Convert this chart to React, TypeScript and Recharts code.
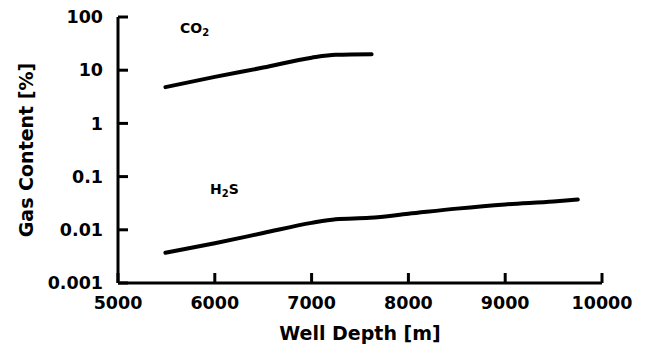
import React from "react";
import { LineChart, Line, XAxis, YAxis, Label, ReferenceDot } from "recharts";

// well depth [m] vs gas content [%]
const co2Depth = [5490, 6000, 6500, 7000, 7250, 7620];
const co2Content = [4.8, 7.5, 11.2, 17.2, 19.5, 20];

const h2sDepth = [5490, 6000, 6500, 7000, 7250, 7600, 8000, 8500, 9000, 9500, 9750];
const h2sContent = [0.0037, 0.0056, 0.0087, 0.0135, 0.0158, 0.0168, 0.02, 0.025, 0.03, 0.034, 0.037];

const xTicks = [5000, 6000, 7000, 8000, 9000, 10000];
const yTicks = [0.001, 0.01, 0.1, 1, 10, 100];

const co2Data = co2Depth.map((d, i) => ({ depth: d, value: co2Content[i] }));
const h2sData = h2sDepth.map((d, i) => ({ depth: d, value: h2sContent[i] }));

const FONT = "'DejaVu Sans', Verdana, sans-serif";
const tickStyle = { fill: "#000", fontSize: 17.5, fontWeight: 700, fontFamily: FONT };
const titleStyle = { fill: "#000", fontSize: 19, fontWeight: 700, fontFamily: FONT };

// gas name with a subscript 2, drawn next to its curve
const gasLabel = (pre: string, post: string) => (props: any) => {
  const { viewBox } = props;
  const x = viewBox.x + (viewBox.width || 0) / 2;
  const y = viewBox.y + (viewBox.height || 0) / 2;
  return (
    <text x={x} y={y} dy={4} fontFamily={FONT} fontSize={14} fontWeight={700} fill="#000" textAnchor="start">
      {pre}
      <tspan fontSize={10} dy={3}>2</tspan>
      <tspan dy={-3}>{post}</tspan>
    </text>
  );
};

export default function App() {
  return (
    <div style={{ position: "absolute", left: 0, top: 0, background: "#fff" }}>
      <LineChart width={646} height={350} margin={{ top: 17, right: 44, bottom: 0, left: 0 }}>
        <XAxis
          dataKey="depth"
          type="number"
          domain={[5000, 10000]}
          ticks={xTicks}
          height={67}
          axisLine={{ stroke: "#000", strokeWidth: 3 }}
          tickLine={{ stroke: "#000", strokeWidth: 3 }}
          tickSize={-10}
          tickMargin={24}
          tick={tickStyle}
        >
          <Label value="Well Depth [m]" position="insideBottom" offset={10} style={titleStyle} />
        </XAxis>
        <YAxis
          dataKey="value"
          type="number"
          scale="log"
          domain={[0.001, 100]}
          ticks={yTicks}
          width={118}
          axisLine={{ stroke: "#000", strokeWidth: 3 }}
          tickLine={{ stroke: "#000", strokeWidth: 3 }}
          tickSize={-10}
          tickMargin={25}
          tick={tickStyle}
          tickFormatter={(v: number) => String(v)}
        >
          <Label
            value="Gas Content [%]"
            angle={-90}
            position="insideLeft"
            offset={26}
            style={{ ...titleStyle, textAnchor: "middle" }}
          />
        </YAxis>
        <Line
          data={co2Data}
          dataKey="value"
          type="monotone"
          stroke="#000"
          strokeWidth={4}
          strokeLinecap="round"
          dot={false}
          isAnimationActive={false}
        />
        <Line
          data={h2sData}
          dataKey="value"
          type="monotone"
          stroke="#000"
          strokeWidth={4}
          strokeLinecap="round"
          dot={false}
          isAnimationActive={false}
        />
        <ReferenceDot x={5640} y={60} r={0} fill="none" stroke="none" label={gasLabel("CO", "")} />
        <ReferenceDot x={5950} y={0.057} r={0} fill="none" stroke="none" label={gasLabel("H", "S")} />
      </LineChart>
    </div>
  );
}
